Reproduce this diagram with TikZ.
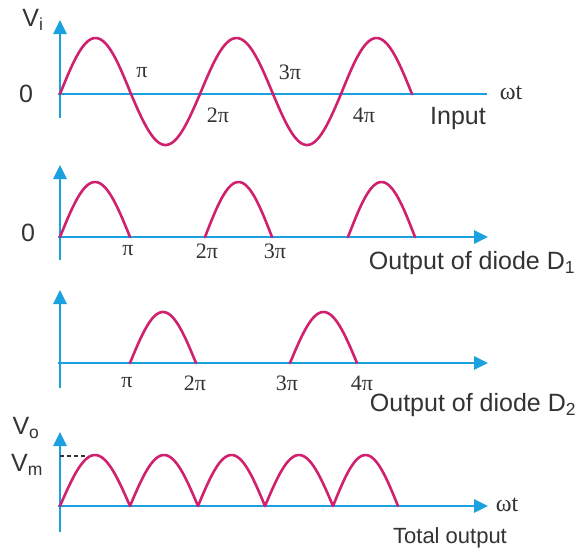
\documentclass[tikz,border=0pt]{standalone}
\usepackage{fontspec}
\setmainfont{Liberation Serif}
\setsansfont{Liberation Sans}
\usetikzlibrary{arrows.meta}
\definecolor{axisblue}{RGB}{27,160,224}
\definecolor{wavecol}{RGB}{208,32,110}
\newcommand\wavehump[4]{\draw[wavestyle] plot[domain=0:180,samples=40] ({#1+(#2-#1)*\x/180},{#3-(#4)*sin(\x)});}
\begin{document}
\begin{tikzpicture}[x=1pt,y=-1pt,
  axis/.style={axisblue, line width=2.6pt},
  arr/.style={-{Triangle[length=14pt,width=13pt]}},
  wavestyle/.style={wavecol, line width=2.6pt, line cap=round},
  lab/.style={font=\fontsize{22}{22}\selectfont, inner sep=0pt, text=black!80},
  txt/.style={font=\sffamily\fontsize{25}{25}\selectfont, inner sep=0pt, text=black!80},
  stxt/.style={font=\sffamily\fontsize{22}{22}\selectfont, inner sep=0pt, text=black!80}]
\useasboundingbox (0,0) rectangle (586,552);
\fill[white] (0,0) rectangle (586,552);

% ---------- panel 1: input ----------
\coordinate (a1b) at (60,118);
\coordinate (a1t) at (60,20);
\coordinate (h1l) at (58,94);
\coordinate (h1r) at (487,94);
\draw[axis] (h1l) -- (h1r);
\draw[axis,arr] (a1b) -- (a1t);
\wavehump{60}{131}{94}{56}
\wavehump{131}{200}{94}{-51}
\wavehump{200}{273}{94}{56}
\wavehump{273}{341}{94}{-51}
\wavehump{341}{412}{94}{56}
\node[txt] (vi) at (33,20) {V\textsubscript{i}};
\node[txt] (z1) at (26,94) {0};
\node[lab] (p1a) at (142,73) {π};
\node[lab] (p1b) at (218,115) {2π};
\node[lab] (p1c) at (290,72) {3π};
\node[lab] (p1d) at (364,115) {4π};
\node[lab,font=\fontsize{24}{24}\selectfont] (wt1) at (511,93) {ωt};
\node[txt] (inp) at (458,118) {Input};

% ---------- panel 2: output of D1 ----------
\coordinate (a2b) at (60,260);
\coordinate (a2t) at (60,165);
\coordinate (h2l) at (58,237);
\coordinate (h2r) at (488,237);
\draw[axis,arr] (h2l) -- (h2r);
\draw[axis,arr] (a2b) -- (a2t);
\wavehump{60}{130}{237}{55}
\wavehump{205}{272}{237}{55}
\wavehump{348}{415}{237}{55}
\node[txt] (z2) at (28,233) {0};
\node[lab] (p2a) at (128,251) {π};
\node[lab] (p2b) at (207,251) {2π};
\node[lab] (p2c) at (275,251) {3π};
\node[txt] (d1) at (472,263) {Output of diode D\textsubscript{1}};

% ---------- panel 3: output of D2 ----------
\coordinate (a3b) at (60,388);
\coordinate (a3t) at (60,290);
\coordinate (h3l) at (58,363);
\coordinate (h3r) at (488,363);
\draw[axis,arr] (h3l) -- (h3r);
\draw[axis,arr] (a3b) -- (a3t);
\wavehump{130}{196}{363}{51}
\wavehump{290}{357}{363}{51}
\node[lab] (p3a) at (127,383) {π};
\node[lab] (p3b) at (195,383) {2π};
\node[lab] (p3c) at (287,383) {3π};
\node[lab] (p3d) at (362,383) {4π};
\node[txt] (d2) at (473,405) {Output of diode D\textsubscript{2}};

% ---------- panel 4: total output ----------
\coordinate (a4b) at (60,532);
\coordinate (a4t) at (60,432);
\coordinate (h4l) at (58,506);
\coordinate (h4r) at (488,506);
\draw[axis,arr] (h4l) -- (h4r);
\draw[axis,arr] (a4b) -- (a4t);
\wavehump{60}{130}{506}{51}
\wavehump{130}{198}{506}{51}
\wavehump{198}{265}{506}{51}
\wavehump{265}{333}{506}{51}
\wavehump{333}{398}{506}{51}
\coordinate (vm) at (60,456);
\coordinate (vme) at (88,456);
\draw[black!80, line width=1.2pt, dash pattern=on 4pt off 3pt] (vm) -- (vme);
\node[txt] (vo) at (26,428) {V\textsubscript{o}};
\node[txt] (vmx) at (27,465) {V\textsubscript{m}};
\node[lab,font=\fontsize{24}{24}\selectfont] (wt4) at (507,505) {ωt};
\node[stxt] (tot) at (450,538) {Total output};
\end{tikzpicture}
\end{document}
